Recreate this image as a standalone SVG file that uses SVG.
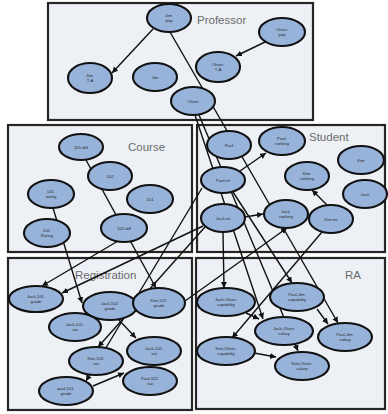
<svg xmlns="http://www.w3.org/2000/svg" width="388" height="414" viewBox="0 0 388 414">
<style>
.box{fill:#edf1f6;stroke:#262626;stroke-width:2.2}
.title{font-family:"Liberation Sans",Arial,sans-serif;font-size:11.5px;fill:#6b6b6b}
.n ellipse{fill:#98b3da;stroke:#111111;stroke-width:2.1}
.n text{font-family:"Liberation Sans",Arial,sans-serif;font-size:4.3px;fill:#2a2a2a;text-anchor:middle}
.e line{stroke:#111111;stroke-width:1.4;marker-end:url(#arr)}
</style>
<defs>
<marker id="arr" markerUnits="userSpaceOnUse" markerWidth="7" markerHeight="7" refX="6" refY="3" orient="auto">
<path d="M0,0 L6,3 L0,6 z" fill="#111111"/>
</marker>
</defs>
<rect width="388" height="414" fill="#ffffff"/>
<g id="box-professor"><rect class="box" x="48" y="3" width="265" height="117"/><text class="title" x="197" y="24">Professor</text></g>
<g id="box-course"><rect class="box" x="8" y="125" width="184" height="127"/><text class="title" x="128" y="151">Course</text></g>
<g id="box-student"><rect class="box" x="197" y="125" width="188" height="127"/><text class="title" x="309" y="141">Student</text></g>
<g id="box-registration"><rect class="box" x="8" y="258" width="184" height="152"/><text class="title" x="75" y="279">Registration</text></g>
<g id="box-ra"><rect class="box" x="196" y="258" width="189" height="151"/><text class="title" x="345" y="279">RA</text></g>
<g id="connectors" class="e">
<line x1="153" y1="29" x2="112" y2="73"/>
<line x1="265" y1="42" x2="236" y2="56"/>
<line x1="170" y1="32" x2="338" y2="323"/>
<line x1="195" y1="115" x2="263" y2="319"/>
<line x1="199" y1="115" x2="298" y2="351"/>
<line x1="240" y1="171" x2="266" y2="153"/>
<line x1="327" y1="205" x2="312" y2="190"/>
<line x1="245" y1="217" x2="263" y2="214"/>
<line x1="223" y1="232" x2="224" y2="288"/>
<line x1="233" y1="192" x2="292" y2="283"/>
<line x1="322" y1="232" x2="232" y2="338"/>
<line x1="185" y1="301" x2="287" y2="228"/>
<line x1="86" y1="160" x2="156" y2="288"/>
<line x1="53" y1="208" x2="82" y2="303"/>
<line x1="118" y1="241" x2="42" y2="286"/>
<line x1="203" y1="226" x2="62" y2="293"/>
<line x1="202" y1="188" x2="86" y2="381"/>
<line x1="205" y1="227" x2="98" y2="347"/>
<line x1="118" y1="319" x2="136" y2="338"/>
<line x1="93" y1="386" x2="124" y2="373"/>
<line x1="317" y1="309" x2="328" y2="324"/>
<line x1="254" y1="353" x2="276" y2="357"/>
<line x1="246" y1="313" x2="259" y2="319"/>
</g>
<g id="n-jim-pop" class="n"><ellipse cx="169" cy="18" rx="22" ry="14"/><text x="169" y="17">Jim.</text><text x="169" y="22">pop</text></g>
<g id="n-oliver-pop" class="n"><ellipse cx="282" cy="32" rx="23" ry="14"/><text x="282" y="31">Oliver.</text><text x="282" y="36">pop</text></g>
<g id="n-jim-ta" class="n"><ellipse cx="90" cy="78" rx="22" ry="15"/><text x="90" y="77">Jim.</text><text x="90" y="82">T-A</text></g>
<g id="n-jim" class="n"><ellipse cx="155" cy="77" rx="22" ry="14"/><text x="155" y="79">Jim</text></g>
<g id="n-oliver-ta" class="n"><ellipse cx="218" cy="67" rx="22" ry="15"/><text x="218" y="66">Oliver.</text><text x="218" y="71">T-A</text></g>
<g id="n-oliver" class="n"><ellipse cx="193" cy="101" rx="22" ry="14"/><text x="193" y="103">Oliver</text></g>
<g id="n-101-diff" class="n"><ellipse cx="81" cy="147" rx="22" ry="13"/><text x="81" y="149">101.diff</text></g>
<g id="n-102" class="n"><ellipse cx="110" cy="176" rx="22" ry="14"/><text x="110" y="178">102</text></g>
<g id="n-101" class="n"><ellipse cx="150" cy="199" rx="23" ry="14"/><text x="150" y="201">101</text></g>
<g id="n-101-rating" class="n"><ellipse cx="51" cy="194" rx="23" ry="14"/><text x="51" y="193">101.</text><text x="51" y="198">rating</text></g>
<g id="n-102-rating" class="n"><ellipse cx="47" cy="233" rx="23" ry="14"/><text x="47" y="232">102.</text><text x="47" y="237">Rating</text></g>
<g id="n-102-diff" class="n"><ellipse cx="124" cy="228" rx="23" ry="14"/><text x="124" y="230">102.diff</text></g>
<g id="n-paul" class="n"><ellipse cx="229" cy="145" rx="22" ry="14"/><text x="229" y="147">Paul</text></g>
<g id="n-paul-ranking" class="n"><ellipse cx="282" cy="141" rx="23" ry="14"/><text x="282" y="140">Paul.</text><text x="282" y="145">ranking</text></g>
<g id="n-paul-int" class="n"><ellipse cx="223" cy="180" rx="22" ry="13"/><text x="223" y="182">Paul.int</text></g>
<g id="n-kim-ranking" class="n"><ellipse cx="307" cy="176" rx="22" ry="14"/><text x="307" y="175">Kim.</text><text x="307" y="180">ranking</text></g>
<g id="n-kim" class="n"><ellipse cx="361" cy="160" rx="23" ry="14"/><text x="361" y="162">Kim</text></g>
<g id="n-jack" class="n"><ellipse cx="365" cy="194" rx="22" ry="14"/><text x="365" y="196">Jack</text></g>
<g id="n-jack-int" class="n"><ellipse cx="223" cy="218" rx="22" ry="14"/><text x="223" y="220">Jack.int</text></g>
<g id="n-jack-ranking" class="n"><ellipse cx="286" cy="214" rx="22" ry="14"/><text x="286" y="213">Jack.</text><text x="286" y="218">ranking</text></g>
<g id="n-kim-int" class="n"><ellipse cx="331" cy="219" rx="22" ry="14"/><text x="331" y="221">Kim.int</text></g>
<g id="n-jack-101-grade" class="n"><ellipse cx="36" cy="299" rx="27" ry="13"/><text x="36" y="298">Jack,101.</text><text x="36" y="303">grade</text></g>
<g id="n-jack-101-sat" class="n"><ellipse cx="75" cy="327" rx="26" ry="14"/><text x="75" y="326">Jack,101.</text><text x="75" y="331">sat</text></g>
<g id="n-jack-102-grade" class="n"><ellipse cx="110" cy="306" rx="27" ry="14"/><text x="110" y="305">Jack,102.</text><text x="110" y="310">grade</text></g>
<g id="n-kim-102-grade" class="n"><ellipse cx="159" cy="303" rx="26" ry="15"/><text x="159" y="302">Kim,102.</text><text x="159" y="307">grade</text></g>
<g id="n-kim-102-sat" class="n"><ellipse cx="96" cy="361" rx="27" ry="14"/><text x="96" y="360">Kim,102.</text><text x="96" y="365">sat</text></g>
<g id="n-jack-102-sat" class="n"><ellipse cx="154" cy="351" rx="27" ry="14"/><text x="154" y="350">Jack,102.</text><text x="154" y="355">sat</text></g>
<g id="n-paul-101-grade" class="n"><ellipse cx="66" cy="391" rx="27" ry="14"/><text x="66" y="390">paul,101.</text><text x="66" y="395">grade</text></g>
<g id="n-paul-102-sat" class="n"><ellipse cx="150" cy="381" rx="27" ry="14"/><text x="150" y="380">Paul,102.</text><text x="150" y="385">sat</text></g>
<g id="n-jack-oliver-cap" class="n"><ellipse cx="226" cy="302" rx="29" ry="14"/><text x="226" y="301">Jack,Oliver.</text><text x="226" y="306">capability</text></g>
<g id="n-paul-jim-cap" class="n"><ellipse cx="297" cy="297" rx="27" ry="14"/><text x="297" y="296">Paul,Jim.</text><text x="297" y="301">capability</text></g>
<g id="n-jack-oliver-sal" class="n"><ellipse cx="284" cy="331" rx="29" ry="14"/><text x="284" y="330">Jack,Oliver.</text><text x="284" y="335">salary</text></g>
<g id="n-paul-jim-sal" class="n"><ellipse cx="345" cy="337" rx="27" ry="14"/><text x="345" y="336">Paul,Jim.</text><text x="345" y="341">salary</text></g>
<g id="n-kim-oliver-cap" class="n"><ellipse cx="226" cy="351" rx="29" ry="14"/><text x="226" y="350">Kim,Oliver.</text><text x="226" y="355">capability</text></g>
<g id="n-kim-oliver-sal" class="n"><ellipse cx="302" cy="366" rx="27" ry="14"/><text x="302" y="365">Kim,Oliver.</text><text x="302" y="370">salary</text></g>
</svg>
